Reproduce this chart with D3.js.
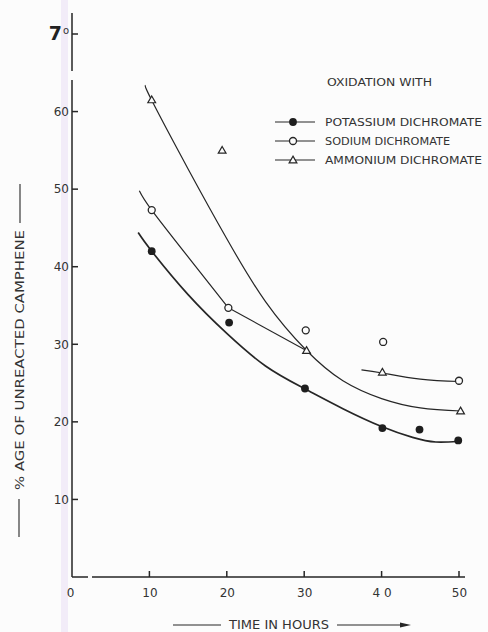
<!DOCTYPE html>
<html><head><meta charset="utf-8">
<script src="https://cdn.jsdelivr.net/npm/d3@7"></script>
<style>
html,body{margin:0;padding:0;background:#fcfcfc;}
svg{display:block;}
text{font-family:"DejaVu Sans",sans-serif;fill:#333;}
</style></head><body>
<svg id="c" width="488" height="632"></svg>
<script>
// ---- data ----
const xTicks = [0, 10, 20, 30, 40, 50];
const xTickLabels = ["0", "10", "20", "30", "4 0", "50"];
const yTicks = [10, 20, 30, 40, 50, 60, 70];
const yTickLabels = ["10", "20", "30", "40", "50", "60", "70"];

const seriesNames = ["POTASSIUM DICHROMATE", "SODIUM DICHROMATE", "AMMONIUM DICHROMATE"];
const legendTitle = "OXIDATION WITH";
const xTitle = "TIME IN HOURS";
const yTitle = "% AGE OF UNREACTED CAMPHENE";

// measured points
const potassiumX = [10.3, 20.3, 30.1, 40.1, 44.9, 49.9];
const potassiumY = [42.0, 32.8, 24.3, 19.2, 19.0, 17.6];
const sodiumX = [10.3, 20.2, 30.2, 40.2, 50.0];
const sodiumY = [47.3, 34.7, 31.8, 30.3, 25.3];
const ammoniumX = [10.3, 19.4, 30.3, 40.1, 50.2];
const ammoniumY = [61.5, 55.0, 29.2, 26.4, 21.4];

// hand-fitted curves
const potassiumCurveX = [8.55, 10.3, 15, 20, 25, 30, 35, 40, 44, 47, 49.9];
const potassiumCurveY = [44.4, 42.0, 36.4, 31.4, 27.2, 24.3, 21.7, 19.4, 18.0, 17.4, 17.5];
const ammoniumCurveX = [9.5, 10.3, 15, 20, 25, 30.3, 35, 40, 45, 50.3];
const ammoniumCurveY = [63.4, 61.45, 52.6, 43.6, 35.5, 29.2, 25.3, 23.0, 21.8, 21.4];
const sodiumCurveX = [8.7, 10.3, 15.25, 20.2];
const sodiumCurveY = [49.8, 47.3, 40.95, 34.7];
const sodiumLinkX = [20.2, 30.8];
const sodiumLinkY = [34.7, 28.9];
const sodiumTailX = [37.4, 40.1, 45, 50.1];
const sodiumTailY = [26.7, 26.3, 25.5, 25.2];

// ---- drawing ----
const ink = "#262626";
const svg = d3.select("#c");
svg.append("rect").attr("x", 61).attr("y", 0).attr("width", 7).attr("height", 632)
  .attr("fill", "#efe7f6").attr("opacity", 0.8);

const x = d3.scaleLinear().domain([0, 50]).range([72, 459]);
const y = d3.scaleLinear().domain([0, 70]).range([577, 34]);

// axes lines (with scan gaps)
const axisG = svg.append("g").attr("stroke", ink).attr("stroke-width", 1.5).attr("fill", "none");
axisG.append("line").attr("x1", x(0)).attr("x2", x(0)).attr("y1", 13).attr("y2", 71);
axisG.append("line").attr("x1", x(0)).attr("x2", x(0)).attr("y1", 80).attr("y2", y(0));
axisG.append("line").attr("x1", x(0)).attr("x2", 88).attr("y1", y(0)).attr("y2", y(0));
axisG.append("line").attr("x1", 92).attr("x2", 465).attr("y1", y(0)).attr("y2", y(0));

const xAxis = d3.axisBottom(x).tickValues(xTicks).tickSize(0).tickPadding(11)
  .tickFormat((d, i) => xTickLabels[i]);
const gx = svg.append("g").attr("transform", `translate(0,${y(0)})`).call(xAxis);
gx.select(".domain").remove();
gx.selectAll(".tick line").remove();
gx.selectAll(".tick text").attr("font-size", 12).attr("fill", "#333")
  .attr("font-family", "DejaVu Sans").attr("xml:space", "preserve");
gx.selectAll(".tick").filter(d => d === 0).select("text").attr("dx", -2);

const yAxis = d3.axisLeft(y).tickValues(yTicks).tickSize(0).tickPadding(3)
  .tickFormat((d, i) => yTickLabels[i]);
const gy = svg.append("g").attr("transform", `translate(${x(0)},0)`).call(yAxis);
gy.select(".domain").remove();
gy.selectAll(".tick line").remove();
gy.selectAll(".tick text").attr("font-size", 12).attr("fill", "#333").attr("font-family", "DejaVu Sans");
const t70 = gy.selectAll(".tick").filter(d => d === 70).select("text");
t70.text(null).attr("dy", "0.45em");
t70.append("tspan").text("7").attr("font-size", 19).attr("font-weight", "bold").attr("fill", "#222");
t70.append("tspan").text("o").attr("font-size", 10).attr("dy", -6).attr("dx", 1);

// inward tick marks
const tg = svg.append("g").attr("stroke", ink).attr("stroke-width", 1.5);
xTicks.filter(d => d !== 0).forEach(d => {
  tg.append("line").attr("x1", x(d)).attr("x2", x(d)).attr("y1", y(0)).attr("y2", y(0) - 6);
});
yTicks.forEach(d => {
  tg.append("line").attr("x1", x(0)).attr("x2", x(0) + 6).attr("y1", y(d)).attr("y2", y(d));
});

// curves
const lineGen = (xs, ys, curve) => d3.line().x(d => x(d[0])).y(d => y(d[1])).curve(curve)(xs.map((v, i) => [v, ys[i]]));
const cg = svg.append("g").attr("fill", "none").attr("stroke", ink);
cg.append("path").attr("d", lineGen(potassiumCurveX, potassiumCurveY, d3.curveNatural)).attr("stroke-width", 1.7);
cg.append("path").attr("d", lineGen(ammoniumCurveX, ammoniumCurveY, d3.curveNatural)).attr("stroke-width", 1.2);
cg.append("path").attr("d", lineGen(sodiumCurveX, sodiumCurveY, d3.curveNatural)).attr("stroke-width", 1.2);
cg.append("path").attr("d", lineGen(sodiumLinkX, sodiumLinkY, d3.curveLinear)).attr("stroke-width", 1.1);
cg.append("path").attr("d", lineGen(sodiumTailX, sodiumTailY, d3.curveNatural)).attr("stroke-width", 1.2);

// markers
const tri = d3.symbol().type(d3.symbolTriangle).size(26);
function drawMarker(g, kind, px, py) {
  if (kind === 0) {
    g.append("circle").attr("cx", px).attr("cy", py).attr("r", 3.9).attr("fill", "#1e1e1e");
  } else if (kind === 1) {
    g.append("circle").attr("cx", px).attr("cy", py).attr("r", 3.5)
      .attr("fill", "#fcfcfc").attr("stroke", ink).attr("stroke-width", 1.3);
  } else {
    g.append("path").attr("d", tri).attr("transform", `translate(${px},${py + 0.6})`)
      .attr("fill", "#fcfcfc").attr("stroke", ink).attr("stroke-width", 1.2);
  }
}
const mg = svg.append("g");
potassiumX.forEach((v, i) => drawMarker(mg, 0, x(v), y(potassiumY[i])));
sodiumX.forEach((v, i) => drawMarker(mg, 1, x(v), y(sodiumY[i])));
ammoniumX.forEach((v, i) => drawMarker(mg, 2, x(v), y(ammoniumY[i])));

// legend
svg.append("text").attr("x", 327).attr("y", 86).attr("font-size", 11)
  .attr("textLength", 105).attr("lengthAdjust", "spacingAndGlyphs").text(legendTitle);
const lgY = [122, 141, 160];
const lgLen = [157, 125, 157];
seriesNames.forEach((name, i) => {
  svg.append("line").attr("x1", 275).attr("x2", 315).attr("y1", lgY[i]).attr("y2", lgY[i])
    .attr("stroke", ink).attr("stroke-width", 1.2);
  drawMarker(svg, i, 293, lgY[i]);
  svg.append("text").attr("x", 325).attr("y", lgY[i] + 4).attr("font-size", 11)
    .attr("textLength", lgLen[i]).attr("lengthAdjust", "spacingAndGlyphs").text(name);
});

// x title
svg.append("text").attr("x", 229).attr("y", 629).attr("font-size", 11.5)
  .attr("textLength", 100).attr("lengthAdjust", "spacingAndGlyphs").text(xTitle);
svg.append("line").attr("x1", 173).attr("x2", 221).attr("y1", 625).attr("y2", 625).attr("stroke", ink).attr("stroke-width", 1.1);
svg.append("line").attr("x1", 337).attr("x2", 402).attr("y1", 625).attr("y2", 625).attr("stroke", ink).attr("stroke-width", 1.1);
svg.append("path").attr("d", "M400,622.5 L411,625 L400,627.5 Z").attr("fill", ink);

// y title
svg.append("text").attr("transform", "translate(24,490) rotate(-90)").attr("font-size", 12)
  .attr("textLength", 260).attr("lengthAdjust", "spacingAndGlyphs").text(yTitle);
svg.append("line").attr("x1", 20).attr("x2", 20).attr("y1", 184).attr("y2", 223).attr("stroke", ink).attr("stroke-width", 1.1);
svg.append("line").attr("x1", 19).attr("x2", 19).attr("y1", 499).attr("y2", 537).attr("stroke", ink).attr("stroke-width", 1.1);
</script>
</body></html>
